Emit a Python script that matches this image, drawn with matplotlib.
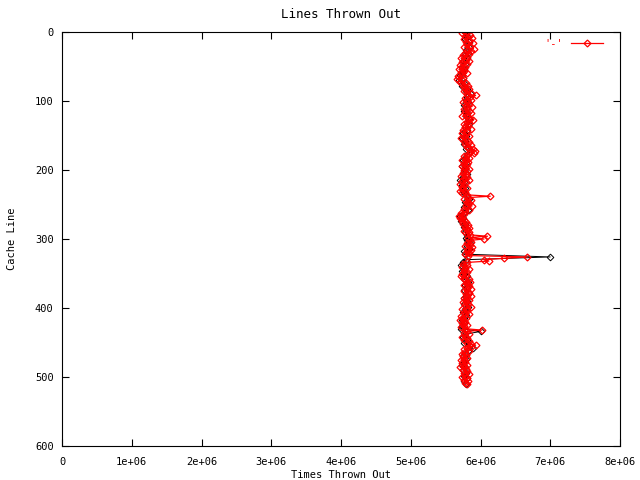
import numpy as np
import matplotlib
matplotlib.use('Agg')
import matplotlib.pyplot as plt

# cache line index (red: every 2nd line, black: every 4th line)
red_lines = np.arange(0, 512, 2)
black_lines = np.arange(2, 512, 4)

# times thrown out, in units of 1e6
red_times = [
    5.80, 5.74, 5.85, 5.78, 5.88, 5.76, 5.83, 5.79, 5.89, 5.80, 5.85, 5.77, 5.90, 5.82, 5.86, 5.78,
    5.84, 5.75, 5.81, 5.72, 5.79, 5.83, 5.74, 5.80, 5.71, 5.78, 5.75, 5.69, 5.77, 5.72, 5.80, 5.74,
    5.68, 5.75, 5.66, 5.73, 5.70, 5.79, 5.74, 5.82, 5.76, 5.84, 5.79, 5.77, 5.86, 5.80, 5.93, 5.85,
    5.78, 5.86, 5.80, 5.75, 5.84, 5.79, 5.88, 5.81, 5.76, 5.83, 5.78, 5.87, 5.80, 5.74, 5.82, 5.85,
    5.89, 5.80, 5.84, 5.76, 5.82, 5.78, 5.86, 5.75, 5.81, 5.73, 5.79, 5.84, 5.77, 5.72, 5.80, 5.76,
    5.83, 5.78, 5.86, 5.80, 5.84, 5.89, 5.92, 5.85, 5.90, 5.81, 5.77, 5.84, 5.79, 5.74, 5.82, 5.76,
    5.80, 5.73, 5.78, 5.84, 5.76, 5.81, 5.75, 5.79, 5.72, 5.80, 5.77, 5.83, 5.74, 5.79, 5.71, 5.77,
    5.73, 5.80, 5.75, 5.70, 5.78, 5.74, 5.80, 6.14, 5.82, 5.77, 5.86, 5.80, 5.84, 5.79, 5.88, 5.81,
    5.76, 5.83, 5.78, 5.72, 5.76, 5.69, 5.74, 5.71, 5.77, 5.73, 5.79, 5.75, 5.82, 5.78, 5.84, 5.80,
    5.77, 5.83, 5.79, 5.85, 6.10, 5.82, 6.05, 5.85, 5.87, 5.81, 5.85, 5.78, 5.88, 5.82, 5.86, 5.80,
    5.84, 5.78, 5.82, 6.67, 6.33, 6.05, 6.12, 5.80, 5.75, 5.81, 5.73, 5.78, 5.83, 5.76, 5.80, 5.74,
    5.79, 5.72, 5.77, 5.83, 5.78, 5.85, 5.80, 5.76, 5.84, 5.79, 5.86, 5.81, 5.77, 5.83, 5.79, 5.87,
    5.81, 5.76, 5.84, 5.79, 5.75, 5.82, 5.78, 5.86, 5.80, 5.74, 5.81, 5.77, 5.83, 5.78, 5.72, 5.79,
    5.75, 5.71, 5.78, 5.73, 5.80, 5.76, 5.72, 5.78, 6.02, 5.80, 5.76, 5.83, 5.78, 5.74, 5.81, 5.77,
    5.84, 5.80, 5.87, 5.93, 5.86, 5.81, 5.77, 5.83, 5.78, 5.73, 5.79, 5.75, 5.81, 5.76, 5.72, 5.78,
    5.74, 5.80, 5.76, 5.71, 5.79, 5.75, 5.81, 5.77, 5.83, 5.78, 5.74, 5.80, 5.77, 5.82, 5.78, 5.80,
]
black_times = [
    5.79, 5.81, 5.78, 5.83, 5.80, 5.84, 5.79, 5.82, 5.78, 5.80, 5.75, 5.78, 5.73, 5.77, 5.74, 5.71,
    5.75, 5.69, 5.77, 5.74, 5.80, 5.79, 5.86, 5.81, 5.79, 5.82, 5.77, 5.80, 5.76, 5.81, 5.79, 5.84,
    5.80, 5.83, 5.78, 5.81, 5.75, 5.79, 5.74, 5.78, 5.76, 5.82, 5.79, 5.85, 5.81, 5.78, 5.75, 5.79,
    5.73, 5.78, 5.76, 5.80, 5.75, 5.71, 5.77, 5.73, 5.78, 5.75, 5.77, 5.80, 5.83, 5.78, 5.81, 5.77,
    5.82, 5.76, 5.70, 5.75, 5.72, 5.78, 5.76, 5.81, 5.78, 5.80, 5.79, 5.81, 5.85, 5.80, 5.83, 5.77,
    5.78, 7.00, 5.79, 5.75, 5.72, 5.78, 5.73, 5.77, 5.80, 5.76, 5.82, 5.78, 5.81, 5.77, 5.83, 5.79,
    5.76, 5.80, 5.77, 5.82, 5.78, 5.75, 5.79, 5.76, 5.73, 5.77, 5.74, 5.72, 6.00, 5.78, 5.75, 5.80,
    5.77, 5.84, 5.89, 5.82, 5.78, 5.75, 5.79, 5.76, 5.73, 5.78, 5.75, 5.79, 5.76, 5.80, 5.77, 5.79,
]

x_ticks = [0, 1e6, 2e6, 3e6, 4e6, 5e6, 6e6, 7e6, 8e6]
x_labels = ['0', '1e+06', '2e+06', '3e+06', '4e+06', '5e+06', '6e+06', '7e+06', '8e+06']
y_ticks = [0, 100, 200, 300, 400, 500, 600]

plt.rcParams['font.family'] = ['DejaVu Sans Mono']
plt.rcParams['font.size'] = 7.5

fig = plt.figure(figsize=(6.4, 4.8), dpi=100)
ax = fig.add_axes([62 / 640, 1 - 446 / 480, 558 / 640, 414 / 480])

ax.plot(np.array(black_times) * 1e6, black_lines, color='black', lw=0.7,
        marker='D', ms=3.4, mfc='none', mew=0.7)
ax.plot(np.array(red_times) * 1e6, red_lines, color='#ff0000', lw=0.9,
        marker='D', ms=3.5, mfc='none', mew=0.9, label="'-'")

ax.set_xlim(0, 8e6)
ax.set_ylim(600, 0)
ax.set_xticks(x_ticks)
ax.set_xticklabels(x_labels)
ax.set_yticks(y_ticks)
ax.tick_params(direction='in', length=5, width=0.8, top=True, right=True, pad=6)
ax.tick_params(axis='x', pad=8)
for s in ax.spines.values():
    s.set_linewidth(0.8)

ax.set_title('Lines Thrown Out', pad=10)
ax.set_xlabel('Times Thrown Out', labelpad=2)
ax.set_ylabel('Cache Line', labelpad=13)

leg = ax.legend(loc='upper right', frameon=False, markerfirst=False,
                handlelength=3.1, labelcolor='#ff0000', borderaxespad=0.4,
                bbox_to_anchor=(0.985, 1.005))

fig.savefig('out.png', dpi=100)
